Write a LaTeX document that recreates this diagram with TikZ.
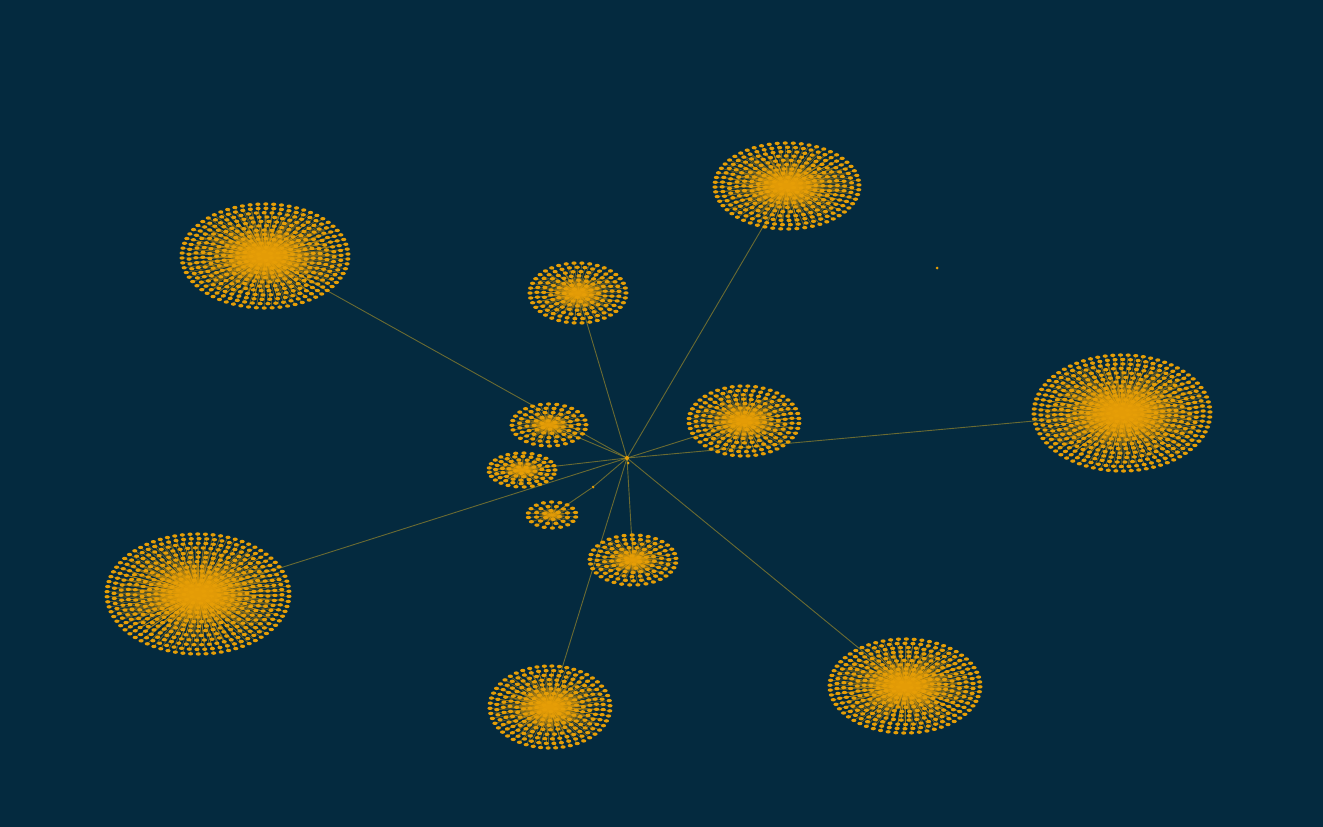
\documentclass[tikz,border=0pt]{standalone}
\definecolor{bgc}{RGB}{4,42,63}
\definecolor{dotc}{RGB}{230,158,6}
\definecolor{edgec}{RGB}{190,160,40}
\tikzset{
  spoke/.style={draw=dotc, opacity=0.45, line width=0.75pt},
  dotfill/.style={fill=dotc},
  glow/.style={fill=dotc, opacity=0.22},
  link/.style={draw=edgec, opacity=0.55, line width=0.9pt},
  hubnode/.style={circle, fill=dotc, inner sep=0pt, minimum size=4pt},
}
% #1 name, #2 cx, #3 cy, #4 rx, #5 ry, #6 rings
\newcommand\mycluster[6]{%
  \foreach \k in {1,...,#6} {
    \pgfmathsetmacro\f{\k/#6}
    \pgfmathtruncatemacro\m{max(3,round(3.1416*(#4+#5)*\f/6.4))}
    \pgfmathsetmacro\st{360/\m}
    \foreach \j in {1,...,\m} {
      \pgfmathsetmacro\a{\st*\j+\k*23}
      \pgfmathsetmacro\px{#2+#4*\f*cos(\a)}
      \pgfmathsetmacro\py{#3+#5*\f*sin(\a)}
      \draw[spoke] (#1.center) -- (\px,\py);
    }
  }
  \foreach \k in {1,...,#6} {
    \pgfmathsetmacro\f{\k/#6}
    \pgfmathtruncatemacro\m{max(3,round(3.1416*(#4+#5)*\f/6.4))}
    \pgfmathsetmacro\st{360/\m}
    \foreach \j in {1,...,\m} {
      \pgfmathsetmacro\a{\st*\j+\k*23}
      \pgfmathsetmacro\px{#2+#4*\f*cos(\a)}
      \pgfmathsetmacro\py{#3+#5*\f*sin(\a)}
      \fill[dotfill] (\px,\py) ellipse (2.6pt and 1.7pt);
    }
  }
  \foreach \s in {0.5,0.42,0.35,0.28,0.22,0.16}
    \fill[glow] (#1) ellipse (#4*\s pt and #5*\s pt);
}
\begin{document}
\begin{tikzpicture}[x=1pt,y=-1pt]
\fill[bgc] (0,0) rectangle (1323,827);
\useasboundingbox (0,0) rectangle (1323,827);
% nodes
\node[hubnode] (hub) at (627,458) {};
\node[hubnode, minimum size=3pt] (hubleaf) at (628,463) {};
\node[hubnode, minimum size=3pt] (mid) at (593,487) {};
\node[hubnode, minimum size=3pt] (iso) at (937,268) {};
\coordinate (c1) at (265,256);
\coordinate (c2) at (787,186);
\coordinate (c3) at (1122,413);
\coordinate (c4) at (198,594);
\coordinate (c5) at (905,686);
\coordinate (c6) at (550,707);
\coordinate (c7) at (578,293);
\coordinate (c8) at (744,421);
\coordinate (c9) at (549,425);
\coordinate (c10) at (522,470);
\coordinate (c11) at (552,515);
\coordinate (c12) at (633,560);
% links
\foreach \c in {c1,c2,c3,c4,c5,c6,c7,c8,c9,c10,c12}
  \draw[link] (hub) -- (\c);
\draw[link] (hub) -- (mid) -- (c11);
\draw[link] (hub) -- (hubleaf);
% clusters
\mycluster{c1}{265}{256}{83}{52}{12}
\mycluster{c2}{787}{186}{72}{43}{10}
\mycluster{c3}{1122}{413}{88}{58}{13}
\mycluster{c4}{198}{594}{91}{60}{13}
\mycluster{c5}{905}{686}{75}{47}{11}
\mycluster{c6}{550}{707}{60}{41}{9}
\mycluster{c7}{578}{293}{48}{30}{7}
\mycluster{c8}{744}{421}{55}{35}{8}
\mycluster{c9}{549}{425}{37}{21}{5}
\mycluster{c10}{522}{470}{33}{17}{5}
\mycluster{c11}{552}{515}{24}{13}{3}
\mycluster{c12}{633}{560}{43}{25}{6}
\node[hubnode] at (hub) {};
\end{tikzpicture}
\end{document}
